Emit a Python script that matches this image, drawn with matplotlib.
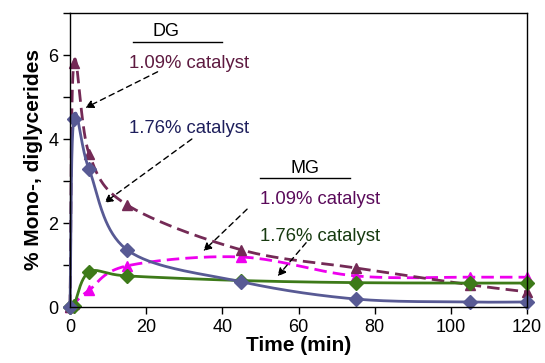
import numpy as np
import matplotlib.pyplot as plt
from matplotlib.ticker import MultipleLocator

plt.rcParams["font.family"] = ["Liberation Sans", "DejaVu Sans"]

# sampling times, min
TIME = [0, 1, 5, 15, 45, 75, 105, 120]

# % of mono- and diglycerides
DG_109 = [0.0, 5.80, 3.65, 2.43, 1.36, 0.93, 0.53, 0.36]
DG_176 = [0.0, 4.48, 3.28, 1.36, 0.60, 0.19, 0.12, 0.12]
MG_109 = [0.0, 0.08, 0.40, 0.98, 1.19, 0.74, 0.71, 0.71]
MG_176 = [0.0, 0.03, 0.83, 0.74, 0.63, 0.58, 0.57, 0.57]

MAROON = "#742a56"
SLATE = "#585a94"
MAGENTA = "#ee00ee"
GREEN = "#3d7a19"


def smooth(x, y, n=40):
    # Catmull-Rom style smoothing, like Excel's "smoothed line"
    x = np.asarray(x, float)
    y = np.asarray(y, float)
    px = np.concatenate([[2 * x[0] - x[1]], x, [2 * x[-1] - x[-2]]])
    py = np.concatenate([[2 * y[0] - y[1]], y, [2 * y[-1] - y[-2]]])
    xs, ys = [], []
    t = np.linspace(0, 1, n)
    for i in range(1, len(px) - 2):
        p0, p1, p2, p3 = [np.array([px[j], py[j]]) for j in range(i - 1, i + 3)]
        c1 = p1 + (p2 - p0) / 6
        c2 = p2 - (p3 - p1) / 6
        pts = (
            np.outer((1 - t) ** 3, p1)
            + np.outer(3 * (1 - t) ** 2 * t, c1)
            + np.outer(3 * (1 - t) * t**2, c2)
            + np.outer(t**3, p2)
        )
        xs.extend(pts[:, 0])
        ys.extend(pts[:, 1])
    return xs, ys


fig = plt.figure(figsize=(5.45, 3.63), dpi=100)
ax = fig.add_axes([70 / 545, 1 - 307 / 363, 457 / 545, 294 / 363])

series = [
    (MG_109, MAGENTA, (0, (4.5, 2.2)), "^"),
    (DG_109, MAROON, (0, (4.5, 2.2)), "^"),
    (MG_176, GREEN, "-", "D"),
    (DG_176, SLATE, "-", "D"),
]
for vals, col, ls, mk in series:
    sx, sy = smooth(TIME, vals)
    ax.plot(sx, sy, color=col, lw=2.0, ls=ls, clip_on=False)
    ax.plot(TIME, vals, ls="none", marker=mk, ms=7, color=col, clip_on=False)

ax.set_xlim(0, 120)
ax.set_ylim(0, 7)
ax.xaxis.set_major_locator(MultipleLocator(20))
ax.yaxis.set_major_locator(MultipleLocator(2))
ax.yaxis.set_minor_locator(MultipleLocator(1))
ax.tick_params(which="both", direction="out", length=5, width=1, labelsize=13)
ax.set_yticks([0, 2, 4, 6])
for s in ax.spines.values():
    s.set_linewidth(1.0)

ax.set_xlabel("Time (min)", fontsize=15, fontweight="bold", labelpad=0)
ax.set_ylabel("% Mono-, diglycerides", fontsize=15, fontweight="bold", labelpad=4)

# annotations
ax.text(25.3, 6.55, "DG", fontsize=13, ha="center", va="center")
ax.plot([16.5, 40], [6.3, 6.3], color="black", lw=1, clip_on=False)
ax.text(15.5, 5.8, "1.09% catalyst", fontsize=13.3, color="#5e1a40", va="center")
ax.text(15.5, 4.25, "1.76% catalyst", fontsize=13.3, color="#1e1f5c", va="center")
ax.text(61.8, 3.3, "MG", fontsize=13, ha="center", va="center")
ax.plot([49.8, 73.5], [3.06, 3.06], color="black", lw=1, clip_on=False)
ax.text(49.8, 2.55, "1.09% catalyst", fontsize=13.3, color="#5a0a5a", va="center")
ax.text(49.8, 1.67, "1.76% catalyst", fontsize=13.3, color="#173a10", va="center")

arrows = [
    ((23, 5.6), (4, 4.74)),
    ((32, 4.0), (9, 2.48)),
    ((46.5, 2.33), (35, 1.33)),
    ((62, 1.53), (54.5, 0.73)),
]
for start, tip in arrows:
    ax.annotate(
        "", xy=tip, xytext=start,
        arrowprops=dict(arrowstyle="-|>", color="black", lw=1, ls=(0, (4, 3)),
                        mutation_scale=12, shrinkA=0, shrinkB=0),
    )

plt.savefig("out.png", dpi=100)
